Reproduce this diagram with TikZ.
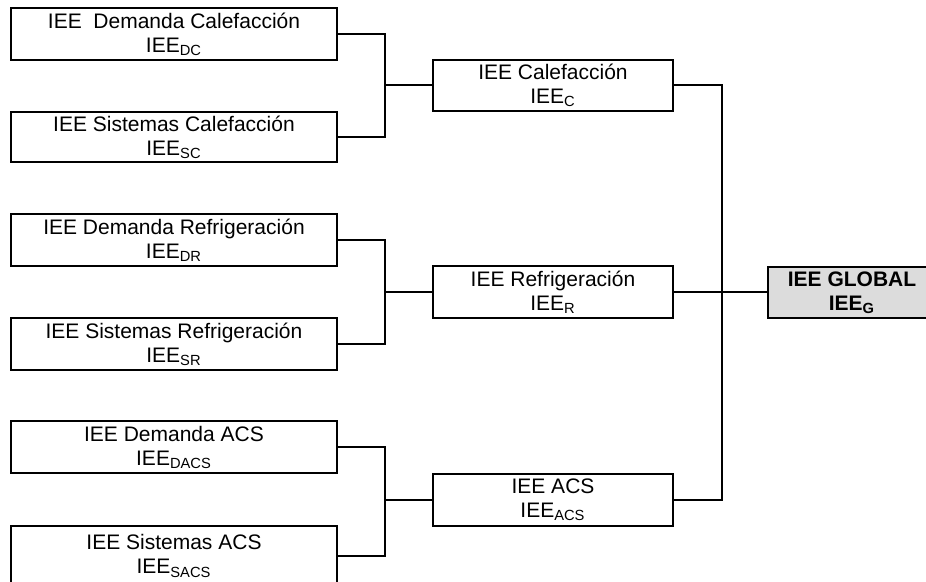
\documentclass[tikz,border=0pt]{standalone}
\usepackage{fontspec}
\setmainfont{Liberation Sans}
\usepackage{tikz}
\usetikzlibrary{positioning}
\usetikzlibrary{calc}
\definecolor{globgray}{RGB}{220,220,220}
\tikzset{
    leaf/.style = {rectangle,draw,line width=1pt,minimum width=163pt,minimum height=26pt,inner sep=1pt,align=center,font=\fontsize{10.5}{12}\selectfont},
    group/.style = {leaf,minimum width=120pt},
    total/.style = {leaf,minimum width=84pt,minimum height=25.5pt,fill=globgray,font=\fontsize{10.5}{12}\selectfont\bfseries},
    wire/.style = {line width=1pt}}
\begin{document}
\begin{tikzpicture}[x=1pt,y=1pt]
        \useasboundingbox (0,0) rectangle (463,291);
        % first column
        \node[leaf] (dc) at (87,274) {IEE\ \ Demanda Calefacción\\IEE\textsubscript{DC}};
        \node[leaf,minimum height=25pt] (sc) at (87,222.5) {IEE Sistemas Calefacción\\IEE\textsubscript{SC}};
        \node[leaf] (dr) at (87,170.75) {IEE Demanda Refrigeración\\IEE\textsubscript{DR}};
        \node[leaf] (sr) at (87,118.75) {IEE Sistemas Refrigeración\\IEE\textsubscript{SR}};
        \node[leaf] (da) at (87,67.25) {IEE Demanda ACS\\IEE\textsubscript{DACS}};
        \node[leaf,minimum height=30pt] (sa) at (87,13) {IEE Sistemas ACS\\IEE\textsubscript{SACS}};
        % second column
        \node[group,minimum height=25.5pt] (mc) at (276.5,248.25) {IEE Calefacción\\IEE\textsubscript{C}};
        \node[group] (mr) at (276.5,144.75) {IEE Refrigeración\\IEE\textsubscript{R}};
        \node[group] (ma) at (276.5,41) {IEE ACS\\IEE\textsubscript{ACS}};
        \node[total] (glob) at (426,144.75) {IEE GLOBAL\\IEE\textsubscript{G}};
        % junctions
        \coordinate (jc) at (192.5,248.25);
        \coordinate (jr) at (192.5,144.75);
        \coordinate (ja) at (192.5,41);
        \coordinate (jg) at (361,144.75);
        \draw[wire] (dc.east) -| (jc) |- (sc.east) (jc) -- (mc.west);
        \draw[wire] (dr.east) -| (jr) |- (sr.east) (jr) -- (mr.west);
        \draw[wire] (da.east) -| (ja) |- (sa.east) (ja) -- (ma.west);
        \draw[wire] (mc.east) -| (jg) |- (ma.east) (mr.east) -- (glob.west);
\end{tikzpicture}
\end{document}
